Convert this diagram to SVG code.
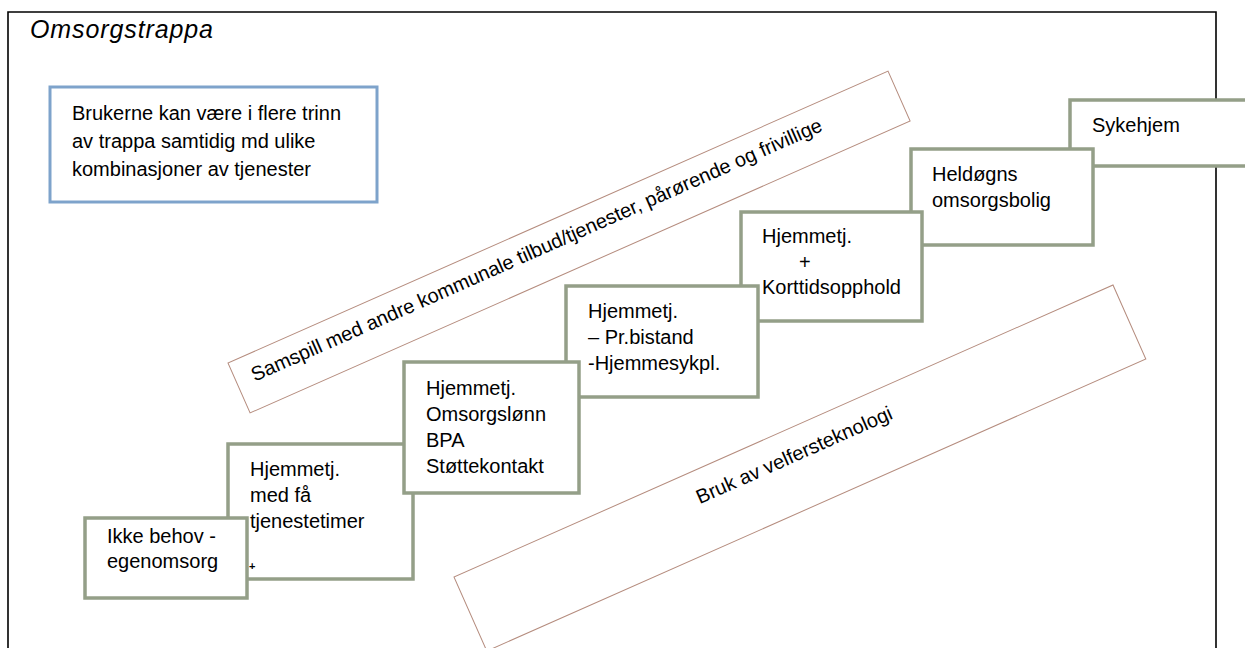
<svg xmlns="http://www.w3.org/2000/svg" width="1245" height="648" viewBox="0 0 1245 648">
  <style>
    text { font-family: "Liberation Sans", Arial, sans-serif; font-size: 20px; fill: #000; }
    .title { font-style: italic; font-size: 25px; }
    .step { fill: #ffffff; stroke: #949F88; stroke-width: 3.5; }
    .note { fill: #ffffff; stroke: #7EA3CB; stroke-width: 3; }
    .band { fill: #ffffff; stroke: #B58C7E; stroke-width: 1; }
    .frame { fill: none; stroke: #000; stroke-width: 1.6; }
    .small { font-size: 11px; font-weight: bold; }
  </style>
  <rect x="0" y="0" width="1245" height="648" fill="#ffffff"/>
  <path class="frame" d="M8,650 V12 H1216 V650"/>

  <text class="title" x="30" y="38" textLength="183" lengthAdjust="spacing">Omsorgstrappa</text>

  <g id="note">
    <rect class="note" x="50" y="87" width="327" height="115"/>
    <text x="72" y="120">Brukerne kan være i flere trinn</text>
    <text x="72" y="148">av trappa samtidig md ulike</text>
    <text x="72" y="176">kombinasjoner av tjenester</text>
  </g>

  <g id="band-samspill" transform="translate(228,363) rotate(-23.86)">
    <rect class="band" x="0" y="0" width="721.7" height="54.6"/>
    <text x="17" y="28" textLength="622" lengthAdjust="spacing">Samspill med andre kommunale tilbud/tjenester, pårørende og frivillige</text>
  </g>

  <g id="band-velferd" transform="translate(454,577) rotate(-23.9)">
    <rect class="band" x="0" y="0" width="720.8" height="81"/>
    <text x="360.4" y="33" text-anchor="middle">Bruk av velfersteknologi</text>
  </g>

  <g id="step7">
    <rect class="step" x="1070" y="100" width="200" height="66"/>
    <text x="1092" y="132">Sykehjem</text>
  </g>
  <g id="step6">
    <rect class="step" x="911" y="149" width="182" height="96"/>
    <text x="932" y="181">Heldøgns</text>
    <text x="932" y="207">omsorgsbolig</text>
  </g>
  <g id="step5">
    <rect class="step" x="741" y="212" width="181" height="109"/>
    <text x="762" y="243">Hjemmetj.</text>
    <text x="799" y="269">+</text>
    <text x="762" y="294">Korttidsopphold</text>
  </g>
  <g id="step4">
    <rect class="step" x="566" y="286" width="192" height="111"/>
    <text x="588" y="318">Hjemmetj.</text>
    <text x="588" y="344">– Pr.bistand</text>
    <text x="588" y="370">-Hjemmesykpl.</text>
  </g>
  <g id="step2">
    <rect class="step" x="228" y="444" width="185" height="135"/>
    <text x="250" y="476">Hjemmetj.</text>
    <text x="250" y="502">med få</text>
    <text x="250" y="528">tjenestetimer</text>
    <text class="small" x="249" y="570">+</text>
  </g>
  <g id="step3">
    <rect class="step" x="404" y="362" width="175" height="131"/>
    <text x="426" y="395">Hjemmetj.</text>
    <text x="426" y="421">Omsorgslønn</text>
    <text x="426" y="447">BPA</text>
    <text x="426" y="473">Støttekontakt</text>
  </g>
  <g id="step1">
    <rect class="step" x="85" y="518" width="162" height="80"/>
    <text x="107" y="543">Ikke behov -</text>
    <text x="107" y="568">egenomsorg</text>
  </g>
  <g id="connectors"></g>
</svg>
